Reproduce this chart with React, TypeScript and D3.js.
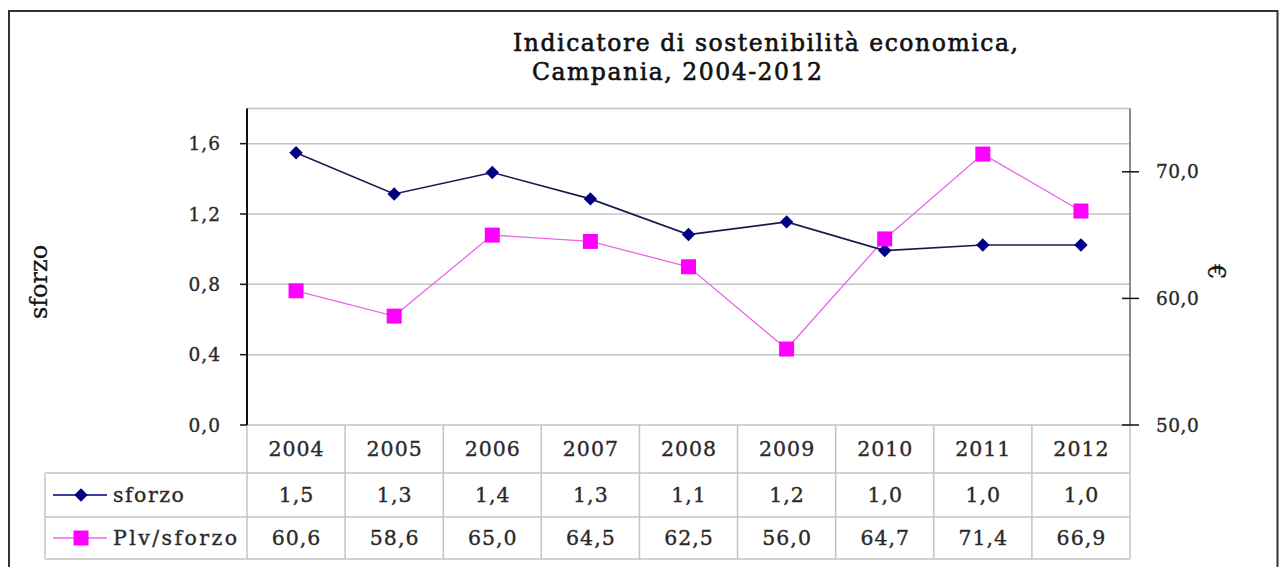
import React from 'react';
import * as d3 from 'd3';

const years = ['2004', '2005', '2006', '2007', '2008', '2009', '2010', '2011', '2012'];
const sforzo = [1.548, 1.314, 1.436, 1.286, 1.083, 1.155, 0.992, 1.024, 1.024];
const plvSforzo = [60.6, 58.6, 65.0, 64.5, 62.5, 56.0, 64.7, 71.4, 66.9];
const leftTicks = [0, 0.4, 0.8, 1.2, 1.6];
const rightTicks = [50, 60, 70];
const seriesNames = ['sforzo', 'Plv/sforzo'];
const titleLines = ['Indicatore di sostenibilità economica,', 'Campania, 2004-2012'];

const W = 1280;
const H = 567;
const plot = { left: 247, right: 1130, top: 108.5, bottom: 425 };
const rowY = [425, 473, 517, 559];
const tableLeft = 45;
const FONT = '"DejaVu Serif", serif';
const NAVY = '#000080';
const MAGENTA = '#ff00ff';
const GRID = '#c4c4c4';

const fmt = (v: number, d: number) => d3.format(`.${d}f`)(v).replace('.', ',');

export default function App() {
  const x = d3.scaleBand<string>().domain(years).range([plot.left, plot.right]);
  const cx = (yr: string) => (x(yr) as number) + x.bandwidth() / 2;
  const yL = d3.scaleLinear().domain([0, 1.8]).range([plot.bottom, plot.top]);
  const yR = d3.scaleLinear().domain([50, 75]).range([plot.bottom, plot.top]);

  const lineL = d3.line<number>().x((_, i) => cx(years[i])).y((d) => yL(d));
  const lineR = d3.line<number>().x((_, i) => cx(years[i])).y((d) => yR(d));
  const diamond = d3.symbol().type(d3.symbolSquare).size(90)();
  const square = d3.symbol().type(d3.symbolSquare).size(225)();

  const legendLineX = [53, 107];
  const legendMarkX = 81;
  const legendTextX = 113;
  const rowCenters = [
    (rowY[0] + rowY[1]) / 2,
    (rowY[1] + rowY[2]) / 2,
    (rowY[2] + rowY[3]) / 2,
  ];
  const txt = { fill: '#2a2a2a', stroke: '#2a2a2a', strokeWidth: 0.35 };

  return (
    <svg
      width={W}
      height={H}
      style={{ position: 'absolute', left: 0, top: 0, background: '#fff' }}
      fontFamily={FONT}
    >
      <rect x={0} y={0} width={W} height={H} fill="#fff" />
      {/* outer frame */}
      <rect x={9} y={11} width={1268.5} height={600} fill="none" stroke="#333" strokeWidth={2} />

      {/* title */}
      <text x={513} y={51} fontSize={23.5} fill="#111" stroke="#111" strokeWidth={0.6} textLength={505} lengthAdjust="spacing">
        {titleLines[0]}
      </text>
      <text x={532} y={80} fontSize={23.5} fill="#111" stroke="#111" strokeWidth={0.6} textLength={290} lengthAdjust="spacing">
        {titleLines[1]}
      </text>

      {/* plot area border top */}
      <line x1={plot.left} x2={plot.right} y1={plot.top} y2={plot.top} stroke={GRID} strokeWidth={1.5} />

      {/* gridlines */}
      {leftTicks.filter((t) => t > 0).map((t) => (
        <line key={'g' + t} x1={plot.left} x2={plot.right} y1={yL(t)} y2={yL(t)} stroke={GRID} strokeWidth={1.5} />
      ))}

      {/* table grid */}
      {rowY.map((ry, i) => (
        <line key={'r' + i} x1={i === 0 ? plot.left : tableLeft} x2={plot.right} y1={ry} y2={ry} stroke={GRID} strokeWidth={1.5} />
      ))}
      <line x1={tableLeft} x2={tableLeft} y1={rowY[1]} y2={rowY[3]} stroke={GRID} strokeWidth={1.5} />
      {years.map((yr) => (
        <line key={'v' + yr} x1={(x(yr) as number) + x.bandwidth()} x2={(x(yr) as number) + x.bandwidth()} y1={rowY[0]} y2={rowY[3]} stroke={GRID} strokeWidth={1.5} />
      ))}
      <line x1={plot.left} x2={plot.left} y1={rowY[0]} y2={rowY[3]} stroke={GRID} strokeWidth={1.5} />

      {/* left axis */}
      <line x1={plot.left} x2={plot.left} y1={plot.top} y2={plot.bottom} stroke="#111" strokeWidth={2} />
      {leftTicks.map((t) => (
        <g key={'lt' + t}>
          <line x1={plot.left - 7} x2={plot.left} y1={yL(t)} y2={yL(t)} stroke="#111" strokeWidth={1.5} />
          <text x={221} y={yL(t)} dy="0.36em" textAnchor="end" fontSize={18.5} letterSpacing={1} {...txt}>
            {fmt(t, 1)}
          </text>
        </g>
      ))}
      <text transform={`translate(47,282) rotate(-90)`} textAnchor="middle" fontSize={24} fill="#111" stroke="#111" strokeWidth={0.3}>
        sforzo
      </text>

      {/* right axis */}
      <line x1={plot.right} x2={plot.right} y1={plot.top} y2={plot.bottom} stroke="#666" strokeWidth={1.5} />
      {rightTicks.map((t) => (
        <g key={'rt' + t}>
          <line x1={plot.right - 8} x2={plot.right + 9} y1={yR(t)} y2={yR(t)} stroke="#111" strokeWidth={1.5} />
          <text x={1156} y={yR(t)} dy="0.36em" textAnchor="start" fontSize={18.5} letterSpacing={0.5} {...txt}>
            {fmt(t, 1)}
          </text>
        </g>
      ))}
      <text transform={`translate(1208,272) rotate(90)`} textAnchor="middle" fontSize={24} fill="#111" stroke="#111" strokeWidth={0.3}>
        €
      </text>

      {/* series */}
      <path d={lineR(plvSforzo) as string} fill="none" stroke="#e868e8" strokeWidth={1.3} />
      <path d={lineL(sforzo) as string} fill="none" stroke="#1a1a50" strokeWidth={1.6} />
      {sforzo.map((v, i) => (
        <path key={'d' + i} d={diamond as string} transform={`translate(${cx(years[i])},${yL(v)}) rotate(45)`} fill={NAVY} />
      ))}
      {plvSforzo.map((v, i) => (
        <path key={'s' + i} d={square as string} transform={`translate(${cx(years[i])},${yR(v)})`} fill={MAGENTA} />
      ))}

      {/* table text */}
      {years.map((yr, i) => (
        <g key={'t' + yr} fontSize={20.5} letterSpacing={1} {...txt}>
          <text x={cx(yr) + 0.5} y={rowCenters[0]} dy="0.36em" textAnchor="middle">{yr}</text>
          <text x={cx(yr) + 0.5} y={rowCenters[1]} dy="0.36em" textAnchor="middle">{fmt(sforzo[i], 1)}</text>
          <text x={cx(yr) + 0.5} y={rowCenters[2]} dy="0.36em" textAnchor="middle">{fmt(plvSforzo[i], 1)}</text>
        </g>
      ))}

      {/* legend keys */}
      <line x1={legendLineX[0]} x2={legendLineX[1]} y1={rowCenters[1]} y2={rowCenters[1]} stroke={NAVY} strokeWidth={1.6} />
      <path d={diamond as string} transform={`translate(${legendMarkX},${rowCenters[1]}) rotate(45)`} fill={NAVY} />
      <line x1={legendLineX[0]} x2={legendLineX[1]} y1={rowCenters[2]} y2={rowCenters[2]} stroke="#e868e8" strokeWidth={1.3} />
      <path d={square as string} transform={`translate(${legendMarkX},${rowCenters[2]})`} fill={MAGENTA} />
      <text x={legendTextX} y={rowCenters[1]} dy="0.36em" fontSize={20.5} letterSpacing={1.5} {...txt}>{seriesNames[0]}</text>
      <text x={legendTextX} y={rowCenters[2]} dy="0.36em" fontSize={20.5} textLength={124} lengthAdjust="spacing" {...txt}>{seriesNames[1]}</text>
    </svg>
  );
}
